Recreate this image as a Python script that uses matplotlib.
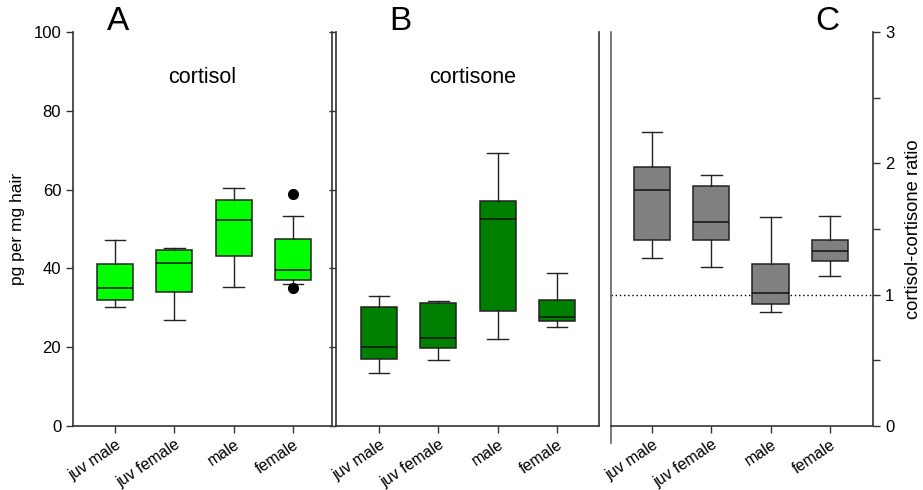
import matplotlib.pyplot as plt
from matplotlib.lines import Line2D

plt.rcParams['font.family'] = ['Liberation Sans', 'DejaVu Sans']

# group labels along the x axis
groups = ["juv male", "juv female", "male", "female"]

# cortisol (pg per mg hair): whisker low, Q1, median, Q3, whisker high
cortisol_lo = [30.1, 26.9, 35.3, 36.1]
cortisol_q1 = [32.1, 33.9, 43.2, 37.1]
cortisol_med = [35.0, 41.4, 52.4, 39.6]
cortisol_q3 = [41.0, 44.7, 57.3, 47.4]
cortisol_hi = [47.3, 45.2, 60.5, 53.3]
cortisol_out = [[], [], [], [59.0, 34.9]]

# cortisone (pg per mg hair)
cortisone_lo = [13.4, 16.8, 22.0, 25.1]
cortisone_q1 = [17.1, 19.8, 29.1, 26.7]
cortisone_med = [20.1, 22.4, 52.6, 27.6]
cortisone_q3 = [30.2, 31.2, 57.1, 32.0]
cortisone_hi = [33.0, 31.7, 69.4, 38.9]

# cortisol-cortisone ratio
ratio_lo = [1.28, 1.21, 0.87, 1.14]
ratio_q1 = [1.42, 1.42, 0.93, 1.26]
ratio_med = [1.80, 1.55, 1.01, 1.33]
ratio_q3 = [1.97, 1.83, 1.23, 1.42]
ratio_hi = [2.24, 1.91, 1.59, 1.60]


def make_stats(lo, q1, med, q3, hi, out=None):
    stats = []
    for i in range(len(lo)):
        stats.append({
            "whislo": lo[i], "q1": q1[i], "med": med[i],
            "q3": q3[i], "whishi": hi[i],
            "fliers": out[i] if out else [],
        })
    return stats


def draw_boxes(ax, stats, color):
    ax.bxp(stats, positions=[1, 2, 3, 4], widths=0.61, capwidths=0.35,
           patch_artist=True, showfliers=True,
           boxprops=dict(facecolor=color, edgecolor="#222222", linewidth=1.1),
           medianprops=dict(color="#111111", linewidth=1.1),
           whiskerprops=dict(color="#222222", linewidth=1.0),
           capprops=dict(color="#222222", linewidth=1.0),
           flierprops=dict(marker="o", markerfacecolor="black",
                           markeredgecolor="black", markersize=7))


def style_x(ax):
    ax.set_xticks([1, 2, 3, 4])
    ax.set_xticklabels(groups, rotation=34, ha="right",
                       rotation_mode="anchor", fontsize=11.5)
    ax.tick_params(axis="x", direction="out", length=5, width=1, pad=3,
                   color="#333333")
    for lbl in ax.get_xticklabels():
        lbl.set_x(lbl.get_position()[0])
    ax.spines["top"].set_visible(False)
    for s in ax.spines.values():
        s.set_color("#333333")
        s.set_linewidth(1.2)


fig = plt.figure(figsize=(9.23, 4.9), dpi=100)
bottom, top = 0.1306, 0.9347
axA = fig.add_axes([0.0791, bottom, 0.3597 - 0.0791, top - bottom])
axB = fig.add_axes([0.364, bottom, 0.649 - 0.364, top - bottom])
axC = fig.add_axes([0.662, bottom, 0.946 - 0.662, top - bottom])

# Panel A: cortisol
draw_boxes(axA, make_stats(cortisol_lo, cortisol_q1, cortisol_med,
                           cortisol_q3, cortisol_hi, cortisol_out), "#00ff00")
axA.set_xlim(0.29, 4.66)
axA.set_ylim(0, 100)
axA.set_yticks([0, 20, 40, 60, 80, 100])
axA.tick_params(axis="y", direction="out", length=5, width=1, labelsize=12,
                color="#333333")
axA.set_ylabel("pg per mg hair", fontsize=12.5, labelpad=6)
style_x(axA)
axA.text(0.5, 0.885, "cortisol", transform=axA.transAxes, ha="center",
         va="center", fontsize=15.5)

# Panel B: cortisone
draw_boxes(axB, make_stats(cortisone_lo, cortisone_q1, cortisone_med,
                           cortisone_q3, cortisone_hi), "#008000")
axB.set_xlim(0.275, 4.71)
axB.set_ylim(0, 100)
axB.set_yticks([0, 20, 40, 60, 80, 100])
axB.tick_params(axis="y", direction="out", length=5, width=1,
                labelleft=False, color="#333333")
style_x(axB)
axB.text(0.52, 0.885, "cortisone", transform=axB.transAxes, ha="center",
         va="center", fontsize=15.5)

# Panel C: ratio
draw_boxes(axC, make_stats(ratio_lo, ratio_q1, ratio_med, ratio_q3, ratio_hi),
           "#808080")
axC.axhline(1, color="black", linestyle=(0, (1, 2)), linewidth=1, zorder=0)
axC.set_xlim(0.31, 4.73)
axC.set_ylim(0, 3)
axC.yaxis.tick_right()
axC.yaxis.set_label_position("right")
axC.set_yticks([0, 1, 2, 3])
axC.set_yticks([0.5, 1.5, 2.5], minor=True)
axC.tick_params(axis="y", which="both", direction="out", length=5, width=1,
                labelsize=12, color="#333333")
axC.set_ylabel("cortisol-cortisone ratio", fontsize=13.2, labelpad=8)
style_x(axC)
axC.spines["left"].set_visible(False)
axC.add_line(Line2D([0, 0], [-0.043, 1.0], transform=axC.transAxes,
                    color="#555555", linewidth=1.1, clip_on=False))

# panel letters
fig.text(118 / 923, 1 - 22 / 490, "A", ha="center", va="center", fontsize=24)
fig.text(400 / 923, 1 - 22 / 490, "B", ha="center", va="center", fontsize=24)
fig.text(827 / 923, 1 - 22 / 490, "C", ha="center", va="center", fontsize=24)

fig.savefig("out.png", dpi=100)
